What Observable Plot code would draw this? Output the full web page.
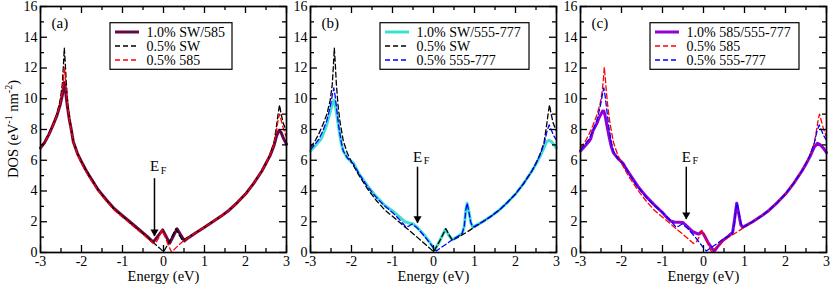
<!DOCTYPE html>
<html><head><meta charset="utf-8">
<script src="https://cdn.jsdelivr.net/npm/d3@7"></script>
<script src="https://cdn.jsdelivr.net/npm/@observablehq/plot@0.6"></script>
<style>
html,body{margin:0;padding:0;background:#fff;}
#wrap{position:relative;width:830px;height:284px;overflow:hidden;background:#fff;}
#wrap svg{position:absolute;left:0;top:0;}
#wrap svg, #wrap svg text, #wrap svg tspan{font-family:"Liberation Serif", "Times New Roman", serif !important;}
</style></head><body><div id="wrap"></div>
<script>
// ---- data (energy eV, DOS eV^-1 nm^-2) ----
const sw05 = [[-3.0,6.85],[-2.9,7.2],[-2.8,7.7],[-2.7,8.3],[-2.6,9.0],[-2.52,9.9],[-2.47,10.9],[-2.44,12.2],[-2.42,13.3],[-2.40,12.5],[-2.37,11.0],[-2.33,9.6],[-2.28,8.5],[-2.2,7.25],[-2.1,6.45],[-2.0,5.9],[-1.9,5.4],[-1.8,4.95],[-1.6,4.1],[-1.4,3.4],[-1.2,2.8],[-1.0,2.35],[-0.8,1.9],[-0.6,1.45],[-0.4,1.0],[-0.25,0.65],[-0.1,0.3],[0.0,0.05],[0.1,0.5],[0.2,1.0],[0.3,1.55],[0.38,1.15],[0.46,0.8],[0.6,1.0],[0.8,1.3],[1.0,1.65],[1.2,2.0],[1.4,2.35],[1.6,2.75],[1.8,3.25],[2.0,3.8],[2.2,4.5],[2.4,5.3],[2.5,5.8],[2.6,6.4],[2.7,7.2],[2.76,8.3],[2.8,9.1],[2.83,9.6],[2.87,9.0],[2.92,8.4],[3.0,7.9]];
const p585_05 = [[-3.0,6.8],[-2.9,7.15],[-2.8,7.65],[-2.7,8.25],[-2.6,8.95],[-2.52,9.7],[-2.47,10.5],[-2.44,11.3],[-2.42,12.05],[-2.40,11.5],[-2.37,10.5],[-2.33,9.4],[-2.28,8.4],[-2.2,7.2],[-2.1,6.4],[-2.0,5.8],[-1.9,5.3],[-1.8,4.85],[-1.6,4.05],[-1.4,3.35],[-1.2,2.75],[-1.0,2.3],[-0.8,1.85],[-0.6,1.4],[-0.4,0.95],[-0.25,0.6],[-0.18,0.65],[-0.1,1.05],[-0.04,1.45],[0.04,1.0],[0.12,0.45],[0.2,0.02],[0.3,0.3],[0.4,0.55],[0.5,0.78],[0.6,0.98],[0.8,1.3],[1.0,1.65],[1.2,2.0],[1.4,2.35],[1.6,2.75],[1.8,3.25],[2.0,3.8],[2.2,4.5],[2.4,5.3],[2.5,5.8],[2.6,6.35],[2.7,7.1],[2.76,8.0],[2.8,8.7],[2.83,9.0],[2.87,8.6],[2.92,8.1],[3.0,7.5]];
const v57_05 = [[-3.0,6.7],[-2.9,7.0],[-2.8,7.35],[-2.7,7.9],[-2.6,8.6],[-2.55,9.15],[-2.5,9.75],[-2.46,10.35],[-2.43,10.7],[-2.40,10.2],[-2.36,9.3],[-2.31,8.2],[-2.25,7.2],[-2.2,6.6],[-2.1,6.15],[-2.0,5.85],[-1.95,5.75],[-1.9,5.5],[-1.8,5.05],[-1.6,4.25],[-1.4,3.6],[-1.2,3.05],[-1.0,2.6],[-0.85,2.2],[-0.75,1.9],[-0.67,1.65],[-0.6,1.72],[-0.52,1.85],[-0.4,1.6],[-0.3,1.3],[-0.2,1.0],[-0.1,0.65],[0.0,0.3],[0.07,0.1],[0.2,0.35],[0.35,0.62],[0.47,0.85],[0.6,1.05],[0.7,1.25],[0.75,1.7],[0.79,2.8],[0.82,3.2],[0.86,2.7],[0.91,1.95],[0.96,1.65],[1.0,1.7],[1.2,2.0],[1.4,2.35],[1.6,2.75],[1.8,3.25],[2.0,3.8],[2.2,4.5],[2.4,5.3],[2.5,5.8],[2.6,6.35],[2.7,7.1],[2.76,7.8],[2.82,8.3],[2.87,8.0],[2.93,7.6],[3.0,7.3]];
const swp585_10 = [[-3.0,6.8],[-2.9,7.15],[-2.8,7.65],[-2.7,8.25],[-2.6,8.9],[-2.52,9.6],[-2.47,10.2],[-2.44,10.7],[-2.42,11.05],[-2.39,10.5],[-2.35,9.6],[-2.3,8.7],[-2.25,8.0],[-2.2,7.2],[-2.1,6.45],[-2.0,5.9],[-1.9,5.4],[-1.8,4.95],[-1.6,4.1],[-1.4,3.45],[-1.2,2.85],[-1.0,2.4],[-0.8,1.95],[-0.6,1.5],[-0.4,1.05],[-0.25,0.68],[-0.02,1.47],[0.15,0.6],[0.33,1.54],[0.51,0.75],[0.6,0.95],[0.8,1.3],[1.0,1.65],[1.2,2.0],[1.4,2.35],[1.6,2.75],[1.8,3.25],[2.0,3.8],[2.2,4.5],[2.4,5.3],[2.5,5.8],[2.6,6.3],[2.7,7.0],[2.76,7.6],[2.82,7.95],[2.87,7.8],[2.93,7.4],[3.0,7.05]];
const swv57_10 = [[-3.0,6.6],[-2.9,6.9],[-2.8,7.2],[-2.75,7.35],[-2.7,7.65],[-2.6,8.35],[-2.55,8.85],[-2.5,9.35],[-2.45,9.85],[-2.42,9.9],[-2.39,9.5],[-2.35,8.8],[-2.3,7.9],[-2.25,7.1],[-2.2,6.6],[-2.1,6.15],[-2.0,5.9],[-1.95,5.8],[-1.9,5.55],[-1.8,5.05],[-1.6,4.3],[-1.4,3.65],[-1.2,3.1],[-1.0,2.7],[-0.8,2.25],[-0.7,2.0],[-0.6,1.92],[-0.5,1.85],[-0.4,1.65],[-0.3,1.35],[-0.2,1.05],[-0.1,0.7],[0.0,0.3],[0.04,0.2],[0.15,0.75],[0.29,1.5],[0.38,1.1],[0.46,0.83],[0.6,1.05],[0.7,1.25],[0.75,1.7],[0.79,2.8],[0.82,3.2],[0.86,2.7],[0.91,1.95],[0.96,1.65],[1.0,1.7],[1.2,2.0],[1.4,2.35],[1.6,2.75],[1.8,3.25],[2.0,3.8],[2.2,4.5],[2.4,5.3],[2.5,5.75],[2.6,6.25],[2.7,6.85],[2.76,7.2],[2.82,7.3],[2.88,7.2],[2.94,7.0],[3.0,6.8]];
const p585v57_10 = [[-3.0,6.6],[-2.9,6.9],[-2.8,7.2],[-2.75,7.4],[-2.7,7.9],[-2.6,8.4],[-2.55,8.75],[-2.5,9.0],[-2.46,9.2],[-2.43,9.2],[-2.4,8.9],[-2.35,8.2],[-2.3,7.5],[-2.25,6.9],[-2.2,6.5],[-2.1,6.15],[-2.0,5.9],[-1.95,5.75],[-1.9,5.5],[-1.8,5.1],[-1.6,4.3],[-1.4,3.65],[-1.2,3.1],[-1.0,2.6],[-0.9,2.3],[-0.8,2.05],[-0.7,1.97],[-0.6,1.97],[-0.5,1.95],[-0.4,1.7],[-0.26,1.35],[-0.12,1.2],[-0.05,1.35],[0.0,1.2],[0.1,0.7],[0.2,0.3],[0.26,0.08],[0.35,0.4],[0.47,0.78],[0.6,1.05],[0.71,1.3],[0.76,2.2],[0.81,3.2],[0.86,2.5],[0.91,1.8],[0.95,1.65],[1.0,1.7],[1.2,2.0],[1.4,2.35],[1.6,2.75],[1.8,3.25],[2.0,3.8],[2.2,4.5],[2.4,5.3],[2.5,5.75],[2.6,6.25],[2.7,6.85],[2.78,7.1],[2.85,7.0],[2.92,6.8],[3.0,6.5]];

const xMajor = [-3,-2,-1,0,1,2,3];
const xMinor = [-2.5,-1.5,-0.5,0.5,1.5,2.5];
const yMajor = [0,2,4,6,8,10,12,14,16];
const yMinor = [1,3,5,7,9,11,13,15];
const panelTags = ["(a)","(b)","(c)"];
const solidNames = ["1.0% SW/585","1.0% SW/555-777","1.0% 585/555-777"];
const dashNames = [["0.5% SW","0.5% 585"],["0.5% SW","0.5% 555-777"],["0.5% 585","0.5% 555-777"]];
// Fermi-level arrow: x position, label y, arrow top y, arrow tip y (data units)
const fermiX = [-0.22,-0.39,-0.42];
const fermiLabelY = [5.6,6.2,6.2];
const fermiTopY = [4.8,5.55,5.55];
const fermiTipY = [1.05,1.9,2.15];

// ---- layout / styles ----
const W = 830, H = 284, FW = 246, MT = 6, MB = 32;
const lefts = [40,310,580];
const solidSeries = [swp585_10, swv57_10, p585v57_10];
const solidColors = ["#670748","#40e0d0","#9400d3"];
const dashSeries = [[sw05,p585_05],[sw05,v57_05],[p585_05,v57_05]];
const dashColors = [["#000000","#ff0000"],["#000000","#0000ff"],["#ff0000","#0000ff"]];
const legendW = [122,149,149];
const font = "Liberation Serif";

const wrap = document.getElementById("wrap");
for (let i = 0; i < 3; i++) {
  const L = lefts[i];
  const fx = fermiX[i];
  const marks = [
    Plot.line(solidSeries[i], {x: d => d[0], y: d => d[1], stroke: solidColors[i], strokeWidth: 3, strokeLinejoin: "round"}),
    ...dashSeries[i].map((s, k) => Plot.line(s, {x: d => d[0], y: d => d[1], stroke: dashColors[i][k], strokeWidth: 1.3, strokeDasharray: "5,3"})),
    Plot.ruleX(xMajor, {x: d => d, insetTop: FW - 7, stroke: "black", strokeWidth: 1.3}),
    Plot.ruleX(xMajor, {x: d => d, insetBottom: FW - 7, stroke: "black", strokeWidth: 1.3}),
    Plot.ruleX(xMinor, {x: d => d, insetTop: FW - 4, stroke: "black", strokeWidth: 1.3}),
    Plot.ruleX(xMinor, {x: d => d, insetBottom: FW - 4, stroke: "black", strokeWidth: 1.3}),
    Plot.ruleY(yMajor, {y: d => d, insetRight: FW - 7, stroke: "black", strokeWidth: 1.3}),
    Plot.ruleY(yMajor, {y: d => d, insetLeft: FW - 7, stroke: "black", strokeWidth: 1.3}),
    Plot.ruleY(yMinor, {y: d => d, insetRight: FW - 4, stroke: "black", strokeWidth: 1.3}),
    Plot.ruleY(yMinor, {y: d => d, insetLeft: FW - 4, stroke: "black", strokeWidth: 1.3}),
    Plot.frame({stroke: "black", strokeWidth: 1.7}),
    Plot.axisX({ticks: xMajor, tickSize: 0, tickPadding: 4, tickFormat: d => String(d), label: null, fontSize: 14}),
    Plot.axisY({ticks: yMajor, tickSize: 0, tickPadding: 3, tickFormat: d => String(d), label: null, fontSize: 14}),
    Plot.text([panelTags[i]], {text: d => d, frameAnchor: "top-left", dx: 11, dy: 17, textAnchor: "start", lineAnchor: "middle", fontSize: 15}),
    Plot.text(["Energy (eV)"], {text: d => d, frameAnchor: "bottom", dy: 24, lineAnchor: "middle", fontSize: 14.5}),
    Plot.ruleX([fx], {x: d => d, y1: fermiTopY[i], y2: fermiTipY[i], stroke: "black", strokeWidth: 1.5}),
    Plot.dot([fx], {x: d => d, y: fermiTipY[i], symbol: "triangle", r: 3, fill: "black", stroke: "none", rotate: 180, dy: -4.6}),
    Plot.text(["E"], {x: fx, y: fermiLabelY[i], text: d => d, fontSize: 15}),
    Plot.text(["F"], {x: fx, y: fermiLabelY[i], text: d => d, fontSize: 10, dx: 9, dy: 4})
  ];
  const svg = Plot.plot({
    width: W, height: H,
    marginLeft: L, marginRight: W - L - FW, marginTop: MT, marginBottom: MB,
    x: {domain: [-3, 3]},
    y: {domain: [0, 16]},
    style: {background: "transparent", fontFamily: font, fontSize: "14px", color: "black", overflow: "visible"},
    marks
  });
  const g = d3.select(svg).append("g").attr("text-anchor", "start");
  // legend box
  const bx = L + 70, by = 22.7, bh = 46.6;
  g.append("rect").attr("x", bx).attr("y", by).attr("width", legendW[i]).attr("height", bh)
    .attr("fill", "white").attr("stroke", "black").attr("stroke-width", 1.2);
  const rows = [32, 46, 60];
  const items = [
    {name: solidNames[i], color: solidColors[i], w: 3, dash: null},
    {name: dashNames[i][0], color: dashColors[i][0], w: 1.3, dash: "5,3"},
    {name: dashNames[i][1], color: dashColors[i][1], w: 1.3, dash: "5,3"}
  ];
  items.forEach((it, k) => {
    g.append("line").attr("x1", L + 75).attr("x2", L + 99).attr("y1", rows[k]).attr("y2", rows[k])
      .attr("stroke", it.color).attr("stroke-width", it.w).attr("stroke-dasharray", it.dash);
    g.append("text").attr("x", L + 106.5).attr("y", rows[k] + 4.6).attr("font-size", 14)
      .attr("text-anchor", "start").attr("fill", "black").text(it.name);
  });
  if (i === 0) {
    const t = g.append("text").attr("transform", `translate(18,${MT + FW / 2}) rotate(-90)`)
      .attr("text-anchor", "middle").attr("font-size", 14.5).attr("fill", "black");
    t.append("tspan").text("DOS (eV");
    t.append("tspan").attr("font-size", 10).attr("dy", -6).text("-1");
    t.append("tspan").attr("dy", 6).text(" nm");
    t.append("tspan").attr("font-size", 10).attr("dy", -6).text("-2");
    t.append("tspan").attr("dy", 6).text(")");
  }
  wrap.appendChild(svg);
}
</script></body></html>
